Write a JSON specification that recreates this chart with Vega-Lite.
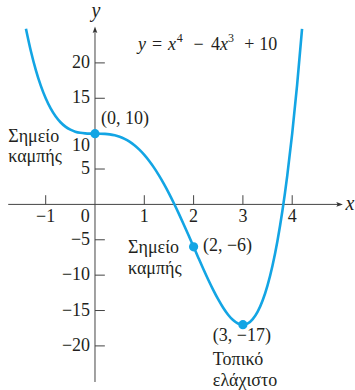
{
  "$schema": "https://vega.github.io/schema/vega-lite/v6.json",
  "width": 355,
  "height": 390,
  "autosize": {"type": "fit", "contains": "padding"},
  "padding": 0,
  "background": "white",
  "config": {"view": {"stroke": null}},
  "datasets": {
    "curve": [
      {"x": -1.4, "y": 24.8176}, {"x": -1.3, "y": 21.644}, {"x": -1.2, "y": 18.986}, {"x": -1.1, "y": 16.788},
      {"x": -1.0, "y": 15}, {"x": -0.9, "y": 13.572}, {"x": -0.8, "y": 12.458}, {"x": -0.7, "y": 11.612},
      {"x": -0.6, "y": 10.994}, {"x": -0.5, "y": 10.5625}, {"x": -0.4, "y": 10.2816}, {"x": -0.3, "y": 10.1161},
      {"x": -0.2, "y": 10.0336}, {"x": -0.1, "y": 10.0041}, {"x": 0, "y": 10}, {"x": 0.1, "y": 9.9961},
      {"x": 0.2, "y": 9.9696}, {"x": 0.3, "y": 9.9001}, {"x": 0.4, "y": 9.7696}, {"x": 0.5, "y": 9.5625},
      {"x": 0.6, "y": 9.2656}, {"x": 0.7, "y": 8.8681}, {"x": 0.8, "y": 8.3616}, {"x": 0.9, "y": 7.7401},
      {"x": 1.0, "y": 7}, {"x": 1.1, "y": 6.1401}, {"x": 1.2, "y": 5.1616}, {"x": 1.3, "y": 4.0681},
      {"x": 1.4, "y": 2.8656}, {"x": 1.5, "y": 1.5625}, {"x": 1.6, "y": 0.1696}, {"x": 1.7, "y": -1.2999},
      {"x": 1.8, "y": -2.8304}, {"x": 1.9, "y": -4.4039}, {"x": 2.0, "y": -6}, {"x": 2.1, "y": -7.5959},
      {"x": 2.2, "y": -9.1664}, {"x": 2.3, "y": -10.6839}, {"x": 2.4, "y": -12.1184}, {"x": 2.5, "y": -13.4375},
      {"x": 2.6, "y": -14.6064}, {"x": 2.7, "y": -15.5879}, {"x": 2.8, "y": -16.3424}, {"x": 2.9, "y": -16.8279},
      {"x": 3.0, "y": -17}, {"x": 3.1, "y": -16.8119}, {"x": 3.2, "y": -16.2144}, {"x": 3.3, "y": -15.1559},
      {"x": 3.4, "y": -13.5824}, {"x": 3.5, "y": -11.4375}, {"x": 3.6, "y": -8.6624}, {"x": 3.7, "y": -5.1959},
      {"x": 3.8, "y": -0.9744}, {"x": 3.9, "y": 4.0681}, {"x": 4.0, "y": 10}, {"x": 4.1, "y": 16.8921},
      {"x": 4.2, "y": 24.8176}
    ],
    "points": [{"x": 0, "y": 10}, {"x": 2, "y": -6}, {"x": 3, "y": -17}],
    "axes": [
      {"x": -1.76, "x2": 4.95, "y": 0, "y2": 0},
      {"x": 0, "x2": 0, "y": -25.1, "y2": 24.8}
    ],
    "xticks": [{"x": -1}, {"x": 1}, {"x": 2}, {"x": 3}, {"x": 4}],
    "yticks": [{"y": 20}, {"y": 15}, {"y": 5}, {"y": -5}, {"y": -10}, {"y": -15}, {"y": -20}],
    "xlabels": [
      {"x": -1, "y": -1.82, "t": "−1"}, {"x": -0.2, "y": -1.82, "t": "0"}, {"x": 1, "y": -1.82, "t": "1"},
      {"x": 2, "y": -1.82, "t": "2"}, {"x": 3, "y": -1.82, "t": "3"}, {"x": 4, "y": -1.82, "t": "4"}
    ],
    "ylabels": [
      {"y": 20, "t": "20"}, {"y": 15, "t": "15"}, {"y": 8.27, "t": "10"}, {"y": 5, "t": "5"},
      {"y": -5, "t": "−5"}, {"y": -10, "t": "−10"}, {"y": -15, "t": "−15"}, {"y": -20, "t": "−20"}
    ],
    "notes": [
      {"x": 0.12, "y": 12.06, "t": "(0, 10)"},
      {"x": -1.76, "y": 9.54, "t": "Σημείο"},
      {"x": -1.76, "y": 6.73, "t": "καμπής"},
      {"x": 0.67, "y": -6.17, "t": "Σημείο"},
      {"x": 0.67, "y": -9.12, "t": "καμπής"},
      {"x": 2.19, "y": -5.89, "t": "(2, −6)"},
      {"x": 2.39, "y": -18.65, "t": "(3, −17)"},
      {"x": 2.39, "y": -22.0, "t": "Τοπικό"},
      {"x": 2.39, "y": -24.96, "t": "ελάχιστο"},
      {"x": 1.156, "y": 22.58, "t": "="},
      {"x": 2.0, "y": 22.58, "t": "−"},
      {"x": 2.353, "y": 22.58, "t": "4"},
      {"x": 3.03, "y": 22.58, "t": "+"},
      {"x": 3.33, "y": 22.58, "t": "10"}
    ],
    "italics": [
      {"x": 0.872, "y": 22.58, "t": "y"},
      {"x": 1.481, "y": 22.58, "t": "x"},
      {"x": 2.535, "y": 22.58, "t": "x"}
    ],
    "sups": [
      {"x": 1.66, "y": 23.45, "t": "4"},
      {"x": 2.70, "y": 23.45, "t": "3"}
    ],
    "axisnames": [
      {"x": 0.02, "y": 27.35, "t": "y"},
      {"x": 5.17, "y": 0, "t": "x"}
    ],
    "arrows": [
      {"x": 0, "y": 24.6, "a": 0},
      {"x": 4.95, "y": 0, "a": 90}
    ]
  },
  "layer": [
    {
      "data": {"name": "axes"},
      "mark": {"type": "rule", "color": "#444", "strokeWidth": 1},
      "encoding": {
        "x": {"field": "x", "type": "quantitative", "scale": {"domain": [-1.927, 5.274], "nice": false, "zero": false}, "axis": null},
        "x2": {"field": "x2"},
        "y": {"field": "y", "type": "quantitative", "scale": {"domain": [-25.95, 28.75], "nice": false, "zero": false}, "axis": null},
        "y2": {"field": "y2"}
      }
    },
    {
      "data": {"name": "xticks"},
      "mark": {"type": "rule", "color": "#444", "strokeWidth": 1},
      "encoding": {
        "x": {"field": "x", "type": "quantitative"},
        "y": {"datum": 0, "type": "quantitative"},
        "y2": {"datum": 1.3}
      }
    },
    {
      "data": {"name": "yticks"},
      "mark": {"type": "rule", "color": "#444", "strokeWidth": 1},
      "encoding": {
        "y": {"field": "y", "type": "quantitative"},
        "x": {"datum": 0, "type": "quantitative"},
        "x2": {"datum": 0.2}
      }
    },
    {
      "data": {"name": "xlabels"},
      "mark": {"type": "text", "align": "center", "baseline": "middle", "font": "Liberation Serif", "fontSize": 18, "color": "#231f20"},
      "encoding": {
        "x": {"field": "x", "type": "quantitative"},
        "y": {"field": "y", "type": "quantitative"},
        "text": {"field": "t"}
      }
    },
    {
      "data": {"name": "ylabels"},
      "mark": {"type": "text", "align": "right", "baseline": "middle", "font": "Liberation Serif", "fontSize": 18, "color": "#231f20"},
      "encoding": {
        "x": {"datum": -0.1, "type": "quantitative"},
        "y": {"field": "y", "type": "quantitative"},
        "text": {"field": "t"}
      }
    },
    {
      "data": {"name": "curve"},
      "mark": {"type": "line", "color": "#13A5E4", "strokeWidth": 2.6, "interpolate": "monotone"},
      "encoding": {
        "x": {"field": "x", "type": "quantitative"},
        "y": {"field": "y", "type": "quantitative"}
      }
    },
    {
      "data": {"name": "points"},
      "mark": {"type": "point", "filled": true, "opacity": 1, "color": "#13A5E4", "size": 85},
      "encoding": {
        "x": {"field": "x", "type": "quantitative"},
        "y": {"field": "y", "type": "quantitative"}
      }
    },
    {
      "data": {"name": "notes"},
      "mark": {"type": "text", "align": "left", "baseline": "middle", "font": "Liberation Serif", "fontSize": 18, "color": "#231f20"},
      "encoding": {
        "x": {"field": "x", "type": "quantitative"},
        "y": {"field": "y", "type": "quantitative"},
        "text": {"field": "t"}
      }
    },
    {
      "data": {"name": "italics"},
      "mark": {"type": "text", "align": "left", "baseline": "middle", "font": "Liberation Serif", "fontStyle": "italic", "fontSize": 18, "color": "#231f20"},
      "encoding": {
        "x": {"field": "x", "type": "quantitative"},
        "y": {"field": "y", "type": "quantitative"},
        "text": {"field": "t"}
      }
    },
    {
      "data": {"name": "sups"},
      "mark": {"type": "text", "align": "left", "baseline": "middle", "font": "Liberation Serif", "fontSize": 12, "color": "#231f20"},
      "encoding": {
        "x": {"field": "x", "type": "quantitative"},
        "y": {"field": "y", "type": "quantitative"},
        "text": {"field": "t"}
      }
    },
    {
      "data": {"name": "axisnames"},
      "mark": {"type": "text", "align": "center", "baseline": "middle", "font": "Liberation Serif", "fontStyle": "italic", "fontSize": 20, "color": "#231f20"},
      "encoding": {
        "x": {"field": "x", "type": "quantitative"},
        "y": {"field": "y", "type": "quantitative"},
        "text": {"field": "t"}
      }
    },
    {
      "data": {"name": "arrows"},
      "mark": {"type": "point", "filled": true, "opacity": 1, "color": "#333", "size": 60, "shape": "M0,-1L0.6,0.7L0,0.35L-0.6,0.7Z"},
      "encoding": {
        "x": {"field": "x", "type": "quantitative"},
        "y": {"field": "y", "type": "quantitative"},
        "angle": {"field": "a", "type": "quantitative", "scale": null}
      }
    }
  ]
}
